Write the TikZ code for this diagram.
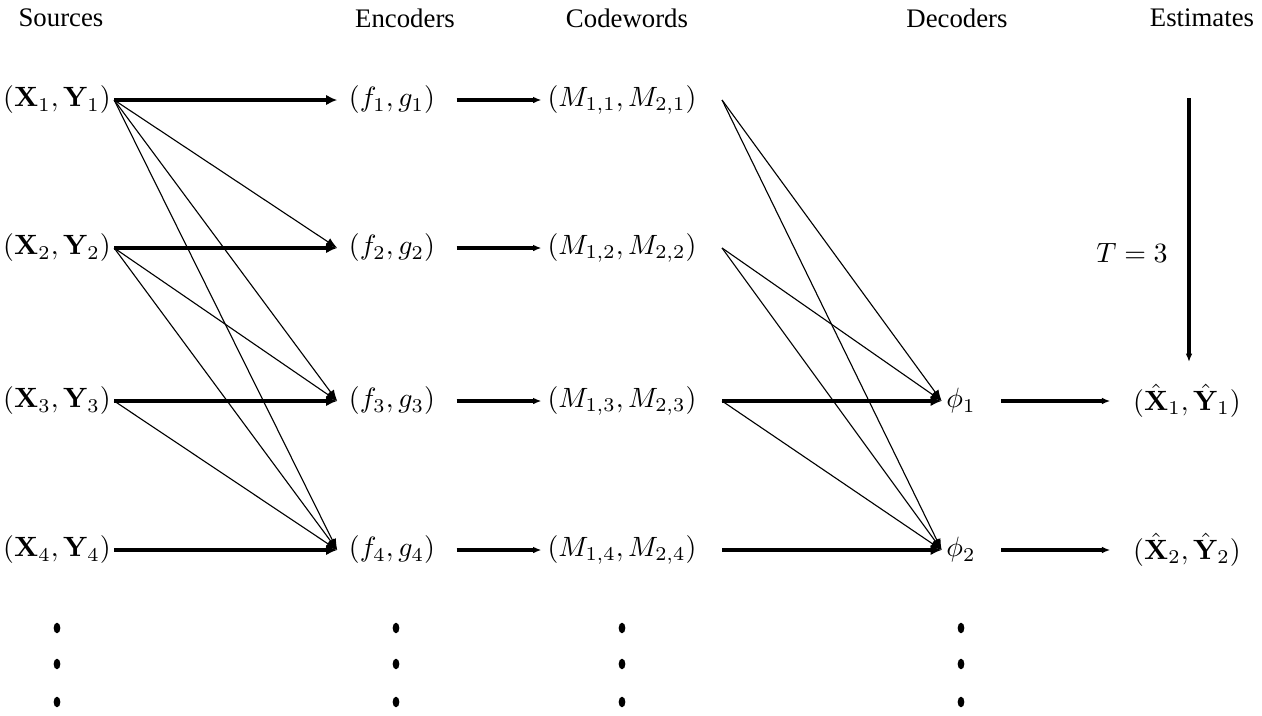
\documentclass[tikz,border=0pt]{standalone}
\usepackage{amsmath}
\usepackage[no-math]{fontspec}
\newfontfamily\headfont{Liberation Serif}
\usetikzlibrary{arrows.meta,positioning,calc}

\begin{document}
\begin{tikzpicture}[x=.3584pt,y=-.3584pt,>=Stealth,
  bigarr/.style={-{Latex[length=4pt,width=3.8pt]},line width=1.4pt},
  smallarr/.style={-{Latex[length=3pt,width=2.4pt]},line width=1.4pt},
  thinarr/.style={-{Latex[length=4pt,width=3pt]},line width=.4pt},
  head/.style={font=\headfont\fontsize{9.6}{11}\selectfont}]
 \useasboundingbox (0,0) rectangle (1262,715);
 % column titles
 \foreach \x/\t/\n in {61/Sources/hsrc,405/Encoders/henc,627/Codewords/hcw,957/Decoders/hdec,1202/Estimates/hest}{
  \node[head] (\n) at(\x,18){\t};}
 % sources, encoders, codewords
 \foreach \i/\y in {1/100,2/248,3/401,4/550}{
  \node[inner xsep=1pt] (s\i) at(57,\y){$(\mathbf{X}_\i,\mathbf{Y}_\i)$};
  \node[inner xsep=4pt] (e\i) at(392,\y){$(f_\i,g_\i)$};
  \node[inner xsep=2pt] (c\i) at(622,\y){$(M_{1,\i},M_{2,\i})$};
  \draw[bigarr] (s\i)--(e\i);
  \draw[smallarr,shorten <=3.5pt] (e\i)--(c\i);}
 \foreach \i/\j in {1/2,1/3,1/4,2/3,2/4,3/4}{
  \draw[thinarr] (s\i.east)--(e\j.west);}
 % decoders and estimates
 \foreach \j/\y in {1/401,2/550}{
  \node[inner xsep=1.5pt] (d\j) at(961,\y){$\phi_\j$};
  \node[inner xsep=1pt] (m\j) at(1187,\y){$(\hat{\mathbf{X}}_\j,\hat{\mathbf{Y}}_\j)$};
  \draw[smallarr,shorten <=7.5pt,shorten >=7pt] (d\j)--(m\j);}
 \draw[bigarr] ([xshift=7pt]c3.east)--(d1.west);
 \draw[bigarr] ([xshift=7pt]c4.east)--(d2.west);
 \foreach \i/\j in {1/1,1/2,2/1,2/2,3/2}{
  \draw[thinarr] ([xshift=7pt]c\i.east)--(d\j.west);}
 % time axis
 \coordinate (ttop) at(1189,98);
 \coordinate (tbot) at(1189,362);
 \draw[smallarr] (ttop)--(tbot);
 \node (tlab) at(1132,253){$T=3$};
 % dots
 \foreach \x in {57,396,622,961}{
  \foreach \y in {628,664,702}{\fill (\x,\y) ellipse[x radius=1.2pt,y radius=1.9pt];}}
\end{tikzpicture}
\end{document}
